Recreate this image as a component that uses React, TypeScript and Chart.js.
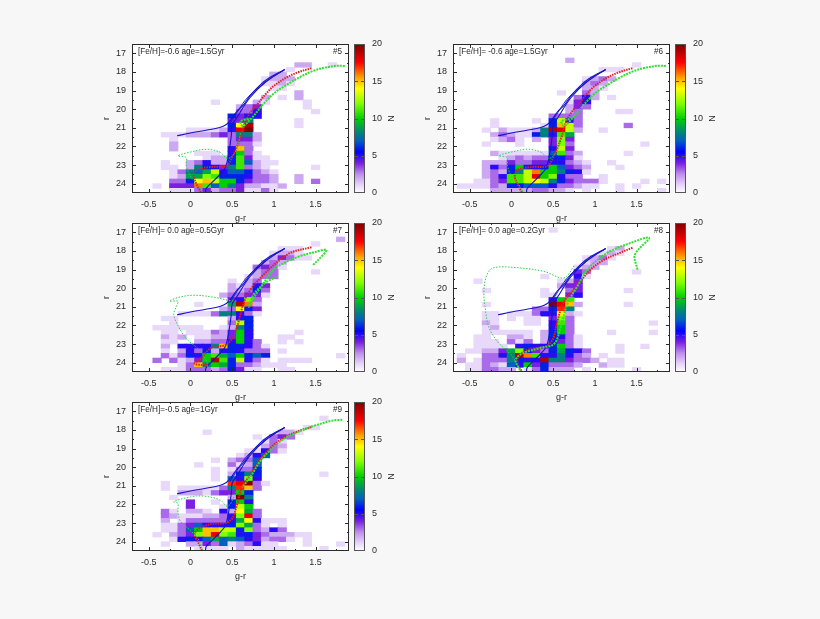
import { useEffect, useRef } from 'react'
import { Chart, registerables } from 'chart.js'

Chart.register(...registerables)

type Seg = number[] // row top edge in r, first g-r bin, then counts N
type Pt = [number, number]

const X_MIN = -0.7
const X_MAX = 1.9
const Y_MIN = 16.5
const Y_MAX = 24.5
const X_BIN = 0.1
const Y_BIN = 0.25
const PLOT_W = 217
const PLOT_H = 149

const xTicks = [-0.5, 0, 0.5, 1, 1.5]
const xMinor = [-0.25, 0.25, 0.75, 1.25, 1.75]
const yTicks = [17, 18, 19, 20, 21, 22, 23, 24]
const yMinor = [16.5, 17.5, 18.5, 19.5, 20.5, 21.5, 22.5, 23.5]
const nTicks = [0, 5, 10, 15, 20]

// colour key of the N bar
const paletteN = [0, 1, 2.5, 4, 5.5, 7, 8, 10, 12, 14, 15.5, 17.5, 20]
const paletteRGB: number[][] = [
  [255, 255, 255], [232, 216, 250], [192, 144, 238], [122, 32, 224], [0, 0, 255], [0, 96, 192],
  [0, 128, 128], [0, 208, 0], [128, 255, 0], [255, 255, 0], [255, 160, 0], [255, 0, 0], [128, 0, 0],
]

const heat5: Seg[] = [
  [17.5, 1.3, 2, 2], [17.5, 1.7, 1], [17.75, 1.2, 1], [18, 1.0, 2, 2], [18.25, 0.9, 1, 2, 2, 2],
  [18.5, 0.9, 1, 1, 2, 1], [18.75, 1.0, 1, 1], [19, 1.3, 2], [19.25, 0.9, 2, 0, 1, 0, 2],
  [19.5, 0.3, 1], [19.5, 0.8, 2, 1], [19.5, 1.4, 1], [19.75, 0.6, 2, 3, 4], [19.75, 1.4, 1],
  [20, 0.6, 3, 3, 5], [20, 1.5, 1], [20.25, 0.5, 6, 4, 5, 5], [20.5, 0.5, 4, 4, 8], [20.5, 1.3, 1],
  [20.75, 0.5, 6, 14, 19], [20.75, 1.3, 1], [21, 0, 1, 1, 1, 1, 2, 5, 18, 20],
  [21.25, -0.3, 1, 1, 1, 2, 2, 2, 3, 4, 3, 8, 8, 2], [21.5, -0.2, 1], [21.5, 0.5, 3, 4, 4, 2],
  [21.75, -0.2, 2], [21.75, 0.5, 3, 3, 3, 1], [22, -0.2, 2], [22, 0.5, 5, 15, 3],
  [22.25, 0.1, 1, 1, 1, 0, 5, 10, 3, 1], [22.5, 0.2, 1, 2, 2, 6, 11, 4, 1, 1],
  [22.75, -0.3, 1, 0, 0, 2, 3, 5, 2, 2, 6, 11, 7, 2, 1, 1],
  [23, -0.3, 1, 1, 0, 2, 8, 6, 5, 4, 8, 11, 3, 2, 1], [23, 1.5, 1],
  [23.25, -0.2, 1, 3, 8, 7, 9, 13, 5, 7, 7, 6, 3, 2, 1],
  [23.5, -0.2, 1, 2, 9, 9, 12, 11, 6, 6, 6, 5, 3, 3, 2, 0, 0, 2],
  [23.75, -0.2, 3, 3, 6, 14, 15, 13, 10, 10, 6, 4, 3, 3, 2, 0, 0, 2, 0, 3],
  [24, -0.4, 1, 0, 4, 4, 4, 16, 11, 7, 10, 8, 4, 2, 2, 1, 1, 2],
  [24.25, -0.2, 1, 1, 1, 3, 4, 2, 3, 3, 4, 1, 1, 3, 1],
]

const heat6: Seg[] = [
  [17.25, 0.7, 2], [17.5, 1.5, 1], [17.75, 1.1, 1, 1, 1], [18.25, 0.9, 1, 2, 3, 2], [18.5, 0.9, 2, 3, 2],
  [18.75, 0.9, 2, 2, 1], [19, 0.6, 1], [19, 0.9, 3, 2], [19.25, 0.8, 3, 5, 2, 0, 1], [19.5, 0.7, 1, 4, 5],
  [19.75, 0.7, 2, 4, 3], [20, 0.7, 2, 3], [20, 1.3, 1, 1], [20.25, 0.5, 3, 3, 3, 3], [20.5, -0.2, 1],
  [20.5, 0.3, 1, 0, 6, 13, 5, 3], [20.75, -0.2, 1], [20.75, 0.4, 1, 6, 15, 13, 3], [20.75, 1.4, 3],
  [21, -0.3, 1, 0, 2, 1, 1, 1, 2, 8, 19, 18, 13, 2], [21, 1.1, 1],
  [21.25, -0.2, 2, 3, 2, 1, 1, 6, 8, 5, 11, 9], [21.5, -0.2, 1, 2, 3, 1, 0, 2, 0, 4, 12, 4],
  [21.75, -0.3, 1], [21.75, 0.1, 1], [21.75, 0.5, 4, 12, 3], [21.75, 1.6, 1], [22, 0.5, 5, 13, 4],
  [22.25, -0.2, 2, 1, 1, 1, 1, 1, 1, 7, 11, 3, 2], [22.25, 1.4, 1], [22.5, -0.1, 1, 2, 3, 2, 3, 3, 6, 6, 4, 1],
  [22.75, -0.3, 2, 2, 2, 4, 3, 3, 4, 4, 5, 5, 3, 2, 1], [22.75, 1.2, 1],
  [23, -0.3, 2, 5, 3, 6, 10, 6, 5, 6, 10, 7, 4, 3, 2], [23, 1.3, 1],
  [23.25, -0.3, 2, 3, 2, 6, 8, 13, 16, 10, 10, 8, 6, 5, 1],
  [23.5, -0.3, 2, 3, 5, 11, 11, 13, 18, 10, 12, 5, 3, 3, 0, 0, 1],
  [23.75, -0.4, 1, 1, 3, 4, 11, 11, 13, 14, 13, 8, 6, 4, 3, 3, 3, 1], [23.75, 1.6, 1], [23.75, 1.8, 1],
  [24, -0.6, 1, 1, 1, 1, 3, 2, 6, 6, 7, 7, 7, 5, 3, 3, 2, 1, 1], [24, 1.3, 1], [24, 1.5, 1],
  [24.25, -0.2, 2, 2, 2, 2, 2, 3, 3, 2, 2, 1, 0, 1], [24.25, 1.3, 1], [24.25, 1.8, 1],
]

const heat7: Seg[] = [
  [17.25, 1.8, 2], [17.5, 1.5, 1], [17.75, 1.1, 1, 1, 1], [18, 1.0, 1, 2, 2, 1], [18.25, 1.0, 2, 4, 3, 1, 1],
  [18.5, 0.9, 2, 3, 2], [18.75, 0.8, 3, 4, 3, 1], [19, 0.8, 2, 3, 3], [19, 1.5, 1], [19.25, 0.7, 1, 2, 3, 3],
  [19.5, 0.5, 1, 0, 2, 3], [19.75, 0.5, 2, 1, 2, 5, 4], [20, 0.5, 2, 2, 3, 6, 3], [20.25, 0.4, 2, 3, 3, 4, 4, 1],
  [20.5, 0.5, 4, 5, 12, 3], [20.75, 0.1, 1], [20.75, 0.5, 9, 19, 16, 2], [21, 0.4, 2, 3, 14, 6, 4],
  [21.25, -0.1, 1, 1, 1, 1, 3, 8, 8, 5, 3, 1], [21.5, -0.3, 1, 1], [21.5, 0.5, 2, 5, 6], [21.75, -0.2, 1],
  [21.75, 0.5, 3, 13, 6], [22, -0.4, 1, 1, 1, 1, 1, 1], [22, 0.4, 1, 2, 8, 6],
  [22.25, -0.3, 1, 1, 0, 1, 1, 1, 3, 2, 4, 10, 5], [22.25, 1.3, 1],
  [22.5, -0.3, 2, 1, 2, 0, 1, 1, 2, 2, 4, 10, 5], [22.5, 1.1, 1, 1],
  [22.75, -0.3, 1, 1, 0, 0, 2, 2, 3, 3, 5, 10, 5, 3], [22.75, 1.1, 1, 0, 1],
  [23, -0.3, 2, 0, 5, 5, 5, 5, 8, 15, 6, 6, 5, 3, 1], [23.25, -0.3, 1, 0, 2, 5, 3, 6, 2, 5, 6, 5, 3, 3, 3, 0, 1],
  [23.5, -0.3, 3, 1, 3, 6, 5, 10, 11, 9, 7, 10, 6, 7, 6], [23.5, 1.8, 1],
  [23.75, -0.4, 3, 0, 3, 1, 2, 4, 10, 19, 11, 6, 13, 5, 3, 1], [23.75, 1.1, 1, 1, 1, 1],
  [24, -0.1, 1, 3, 15, 8, 10, 9, 6, 3, 3, 2, 1, 1, 1], [24.25, -0.3, 1, 1, 1, 3, 3, 3, 2, 3, 6, 4, 1, 1],
  [24.25, 1.1, 1, 1],
]

const heat8: Seg[] = [
  [16.75, 0.5, 1], [17.75, 1.2, 1, 2], [18, 1.1, 1, 2, 1], [18.25, 0.9, 1, 2, 3, 1], [18.5, 0.9, 1, 2, 2],
  [18.75, 0.8, 1, 2, 2], [19, 0.8, 4, 3], [19, 1.5, 1], [19.25, 0.4, 1], [19.25, 0.8, 5, 1], [19.5, -0.4, 1],
  [19.5, 0.6, 1, 2, 4], [19.75, 0.6, 2, 4, 4], [20, -0.3, 1], [20, 0.4, 1], [20, 0.7, 3, 4], [20, 1.4, 1],
  [20.25, 0.4, 1, 1, 0, 4, 5], [20.5, 0.5, 5, 10, 11], [20.75, -0.3, 1], [20.75, 0.5, 20, 18, 15, 2],
  [20.75, 1.4, 1], [21, 0.3, 3, 3, 6, 17, 8], [21.25, -0.3, 1, 1, 0, 1, 1, 1, 3, 5, 5, 14, 2, 1],
  [21.5, -0.3, 1, 1, 0, 1, 0, 1, 1, 0, 4, 12, 3], [21.75, -0.3, 2, 1, 0, 0, 0, 1, 1, 0, 5, 11, 3], [21.75, 1.7, 1],
  [22, -0.3, 1, 2], [22, 0.5, 5, 10, 3], [22.25, -0.3, 1, 1, 1, 1, 1, 1, 0, 2, 6, 10, 3], [22.25, 1.2, 1],
  [22.25, 1.7, 1], [22.5, -0.4, 1, 1, 0, 0, 2, 2, 1, 0, 2, 6, 5, 3, 1], [22.75, -0.4, 1, 1, 1, 0, 3, 1, 3, 0, 2, 6, 4, 3, 1],
  [23, -0.4, 1, 1, 1, 1, 0, 5, 6, 5, 5, 6, 10, 3, 1], [23, 1.3, 1], [23, 1.6, 1],
  [23.25, -0.5, 1, 1, 2, 2, 4, 9, 12, 6, 4, 3, 6, 9, 6, 5, 3], [23.25, 1.3, 1],
  [23.5, -0.6, 1, 0, 0, 3, 3, 5, 8, 19, 16, 11, 5, 5, 8, 5, 3, 2, 0, 1],
  [23.75, -0.6, 2, 0, 1, 3, 3, 3, 8, 6, 5, 5, 19, 8, 8, 4, 3, 3, 2, 0, 1, 1],
  [24, -0.5, 1, 1, 3, 2, 1, 7, 5, 10, 4, 6, 3, 3, 3, 2, 0, 0, 2, 1, 1],
  [24.25, -0.5, 1, 1, 3, 3, 2, 2, 0, 1, 3, 6, 2, 2, 2, 0, 1], [24.25, 1.5, 1],
]

const heat9: Seg[] = [
  [17.25, 1.6, 1], [17.75, 1.4, 1, 1], [18, 0.2, 1], [18, 1.1, 2, 2, 1], [18.25, 0.8, 1, 0, 3, 4, 3],
  [18.5, 0.9, 1, 3, 1], [18.75, 0.9, 2, 3, 2], [19, 0.7, 1, 1, 5, 3, 1], [19.25, 0.6, 1, 2, 5, 7],
  [19.5, 0.3, 1], [19.5, 0.5, 2, 3, 3, 7], [19.75, 0.1, 1], [19.75, 0.5, 3, 1, 2, 7], [20, 0.3, 1],
  [20, 0.5, 1, 3, 3, 6], [20.25, 0.3, 1], [20.25, 0.5, 2, 6, 8, 6], [20.25, 1.6, 1], [20.5, 0.3, 1],
  [20.5, 0.5, 7, 5, 12, 5], [20.75, -0.3, 1], [20.75, 0.5, 17, 18, 20, 3, 1],
  [21, -0.3, 1, 0, 1, 1, 1, 1, 1, 3, 8, 17, 15, 3], [21.25, -0.1, 2, 2, 2, 1, 3, 4, 4, 10, 6],
  [21.5, -0.2, 1], [21.5, 0.5, 2, 20, 8], [21.75, 0, 4], [21.75, 0.3, 1, 0, 6, 10, 5], [22, 0, 4],
  [22, 0.4, 1, 6, 13, 10], [22.25, -0.3, 3, 1, 0, 2, 2, 1, 0, 5, 2, 14, 9, 3],
  [22.5, -0.3, 3, 2, 1, 1, 1, 2, 2, 3, 5, 12, 18, 3], [22.75, -0.3, 2, 0, 1, 3, 3, 3, 3, 3, 5, 9, 14, 5, 1, 1, 1],
  [23, -0.3, 1, 1, 3, 4, 7, 5, 5, 5, 6, 12, 9, 3, 1, 0, 1],
  [23.25, -0.3, 1, 1, 3, 7, 10, 15, 15, 13, 13, 6, 12, 3, 2, 5, 3],
  [23.5, -0.4, 1, 0, 2, 3, 4, 12, 15, 18, 12, 11, 5, 6, 4, 3, 2, 2, 2, 1, 1],
  [23.75, -0.2, 1, 5, 6, 5, 7, 9, 7, 8, 7, 5, 4, 2, 3, 3, 1, 0, 1],
  [24, -0.3, 1, 0, 0, 2, 2, 4, 3, 7, 1, 2, 3, 5, 1, 1], [24, 1.4, 1], [24, 1.8, 1],
  [24.25, 0.1, 1, 1, 1, 1, 0, 2, 1, 1, 1, 1, 1], [24.25, 1.6, 1],
]

// the same blue isochrone sits in every panel
const blueGiant: Pt[] = [[-0.16, 21.43], [0, 21.28], [0.2, 21.12], [0.35, 20.98], [0.43, 20.82], [0.48, 20.6], [0.55, 20.15], [0.63, 19.8], [0.72, 19.25], [0.83, 18.72], [0.95, 18.3], [1.13, 17.87]]
const blueBack: Pt[] = [[1.13, 17.87], [0.91, 18.5], [0.71, 19.4], [0.55, 20.5], [0.5, 20.85], [0.49, 21.4], [0.45, 22.6], [0.41, 23.2], [0.29, 23.8], [0.19, 24.25], [0.18, 24.5]]
const blueMid: Pt[] = [[1.13, 17.87], [0.98, 18.3], [0.8, 18.9], [0.66, 19.5], [0.54, 20.3], [0.47, 20.8]]

const red5: Pt[] = [[1.45, 17.8], [1.3, 18], [1.15, 18.3], [1, 18.75], [0.9, 19.2], [0.8, 19.75], [0.7, 20.3], [0.63, 21], [0.6, 21.5], [0.55, 22.1], [0.5, 22.6], [0.43, 23.05], [0.25, 23.1], [0.08, 23.25], [0.04, 23.6], [0.07, 24], [0.13, 24.5]]
const greenGiant5: Pt[] = [[1.85, 17.68], [1.75, 17.67], [1.6, 17.78], [1.45, 17.98], [1.3, 18.3], [1.15, 18.7], [1, 19.15], [0.85, 19.85], [0.75, 20.4], [0.63, 20.9], [0.6, 20.65], [0.72, 20.5]]
const greenArch5: Pt[] = [[0.6, 21.3], [0.55, 22.2], [0.45, 22.65], [0.35, 22.3], [0.2, 22.15], [0.05, 22.25], [-0.15, 22.5], [-0.05, 22.6], [-0.05, 23], [0, 23.6], [0.08, 24], [0.15, 24.5]]

const red7: Pt[] = [[1.45, 17.8], [1.2, 18.1], [1, 18.75], [0.85, 19.4], [0.7, 20.2], [0.63, 20.9], [0.6, 21.4], [0.55, 22.2], [0.5, 22.7], [0.42, 23.05], [0.25, 23.2], [0.12, 23.8], [0.05, 24.05], [0.2, 24.15]]
const greenGiant7: Pt[] = [[1.47, 18.75], [1.55, 18.4], [1.63, 17.95], [1.5, 18.05], [1.3, 18.3], [1.1, 18.7], [1, 19], [0.85, 19.9], [0.75, 20.6], [0.7, 21], [0.75, 20.4], [0.8, 20.1], [0.9, 19.7], [1.05, 19.35]]
const greenArch7: Pt[] = [[0.55, 20.7], [0.45, 20.65], [0.3, 20.5], [0.05, 20.38], [-0.15, 20.5], [-0.25, 20.7], [-0.15, 20.7], [-0.17, 21], [-0.2, 21.4], [-0.15, 22], [-0.05, 22.7], [0.1, 23.3], [0.2, 24], [0.2, 24.5]]

const red8: Pt[] = [[1.45, 17.83], [1.3, 18.1], [1.1, 18.5], [0.95, 19], [0.75, 20.05], [0.62, 20.8], [0.55, 21.8], [0.5, 22.7], [0.42, 23.1], [0.2, 23.3], [0.08, 23.7], [0.08, 24.1], [0.13, 24.5]]
const greenGiant8: Pt[] = [[1.51, 19], [1.48, 18.2], [1.65, 17.3], [1.43, 17.57], [1.15, 18.1], [0.91, 19], [0.79, 19.9], [0.67, 20.85], [0.59, 22.1], [0.51, 23], [0.35, 23.2], [0.11, 23.55], [0.05, 23.9], [0.11, 24.45]]
const greenArch8: Pt[] = [[0.75, 18.8], [0.63, 19.45], [0.39, 19.1], [0.07, 18.9], [-0.21, 18.9], [-0.29, 19.25], [-0.33, 20.15], [-0.31, 21.2], [-0.27, 22.1], [-0.17, 22.85], [-0.01, 23.55], [0.07, 24.1], [0.11, 24.45]]

const red9: Pt[] = [[1.45, 17.85], [1.3, 18.05], [1.15, 18.35], [1, 18.8], [0.85, 19.5], [0.72, 20.4], [0.62, 21.05], [0.55, 22.15], [0.5, 22.75], [0.42, 23], [0.25, 23.05], [0.1, 23.3], [0.05, 23.6], [0.1, 24.1], [0.14, 24.5]]
const greenGiant9: Pt[] = [[1.82, 17.45], [1.7, 17.5], [1.5, 17.75], [1.35, 18], [1.15, 18.4], [1, 18.9], [0.85, 19.6], [0.72, 20.5], [0.62, 21.1]]
const greenArch9: Pt[] = [[0.55, 21.3], [0.45, 22.1], [0.35, 21.75], [0.15, 21.55], [0, 21.6], [-0.2, 21.85], [-0.15, 21.95], [-0.15, 22.4], [-0.12, 22.9], [0, 23.4], [0.1, 23.9], [0.15, 24.5]]

const panels = [
  { left: 132, top: 44, title: '[Fe/H]=-0.6 age=1.5Gyr', tag: '#5', heat: heat5, red: red5, giant: greenGiant5, arch: greenArch5 },
  { left: 453, top: 44, title: '[Fe/H]= -0.6 age=1.5Gyr', tag: '#6', heat: heat6, red: red5, giant: greenGiant5, arch: greenArch5 },
  { left: 132, top: 223, title: '[Fe/H]= 0.0 age=0.5Gyr', tag: '#7', heat: heat7, red: red7, giant: greenGiant7, arch: greenArch7 },
  { left: 453, top: 223, title: '[Fe/H]= 0.0 age=0.2Gyr', tag: '#8', heat: heat8, red: red8, giant: greenGiant8, arch: greenArch8 },
  { left: 132, top: 402, title: '[Fe/H]=-0.5 age=1Gyr', tag: '#9', heat: heat9, red: red9, giant: greenGiant9, arch: greenArch9 },
]

function colorFor(n: number) {
  let i = 0
  while (i < paletteN.length - 2 && n > paletteN[i + 1]) i++
  const t = (n - paletteN[i]) / (paletteN[i + 1] - paletteN[i])
  const c = paletteRGB[i].map((v, k) => Math.round(v + (paletteRGB[i + 1][k] - v) * t))
  return `rgb(${c[0]},${c[1]},${c[2]})`
}

function cellsOf(heat: Seg[]) {
  const cells: { x: number; y: number[]; n: number }[] = []
  heat.forEach(([r, g0, ...counts]) => {
    counts.forEach((n, i) => {
      if (n > 0) cells.push({ x: Math.round((g0 + i * X_BIN) * 10) / 10, y: [r, r + Y_BIN], n })
    })
  })
  return cells
}

const toXY = (pts: Pt[]) => pts.map(([x, y]) => ({ x, y }))

const FONT = { family: '"Liberation Sans", Arial, sans-serif', size: 9 }
const INK = '#2a2a2a'
const KEY_PAD = 8

// white plot area, gnuplot style frame with inward ticks on all sides, panel captions
const framePlugin = {
  id: 'frame',
  beforeDraw(chart: any, _a: any, opts: any) {
    const { ctx, chartArea: a } = chart
    if (opts.fill) {
      ctx.fillStyle = opts.fill
      ctx.fillRect(a.left, a.top, a.right - a.left, a.bottom - a.top)
    }
  },
  afterDraw(chart: any, _a: any, opts: any) {
    const { ctx, chartArea: a, scales } = chart
    ctx.save()
    ctx.strokeStyle = opts.color
    ctx.lineWidth = 1
    ctx.strokeRect(a.left + 0.5, a.top + 0.5, a.right - a.left - 1, a.bottom - a.top - 1)
    const tick = (x1: number, y1: number, x2: number, y2: number) => {
      ctx.beginPath()
      ctx.moveTo(x1, y1)
      ctx.lineTo(x2, y2)
      ctx.stroke()
    }
    ;(opts.xMajor || []).forEach((v: number) => {
      const x = Math.round(scales.x.getPixelForValue(v)) + 0.5
      tick(x, a.bottom, x, a.bottom - 4)
      tick(x, a.top, x, a.top + 4)
    })
    ;(opts.xMinor || []).forEach((v: number) => {
      const x = Math.round(scales.x.getPixelForValue(v)) + 0.5
      tick(x, a.bottom, x, a.bottom - 2)
      tick(x, a.top, x, a.top + 2)
    })
    ;(opts.yMajor || []).forEach((v: number) => {
      const y = Math.round(scales.y.getPixelForValue(v)) + 0.5
      tick(a.left, y, a.left + 4, y)
      tick(a.right, y, a.right - 4, y)
    })
    ;(opts.yMinor || []).forEach((v: number) => {
      const y = Math.round(scales.y.getPixelForValue(v)) + 0.5
      tick(a.left, y, a.left + 2, y)
      tick(a.right, y, a.right - 2, y)
    })
    if (opts.title) {
      ctx.fillStyle = INK
      ctx.font = `8.2px ${FONT.family}`
      ctx.textBaseline = 'middle'
      ctx.textAlign = 'left'
      ctx.fillText(opts.title, a.left + 6, a.top + 8)
      ctx.textAlign = 'right'
      ctx.fillText(opts.tag, a.right - 7, a.top + 8)
    }
    ctx.restore()
  },
}

const fitHeight = (h: number) => (s: any) => {
  s.height = h
  s.paddingLeft = 0
  s.paddingRight = 0
}
const fitWidth = (w: number) => (s: any) => {
  s.width = w
  s.paddingTop = 0
  s.paddingBottom = 0
}

function Panel({ p }: { p: (typeof panels)[number] }) {
  const plotRef = useRef<HTMLCanvasElement | null>(null)
  const keyRef = useRef<HTMLCanvasElement | null>(null)

  useEffect(() => {
    if (!plotRef.current || !keyRef.current) return
    const cells = cellsOf(p.heat)
    const line = (pts: Pt[], color: string, width: number, dash: number[]) => ({
      type: 'scatter' as const,
      data: toXY(pts),
      showLine: true,
      borderColor: color,
      borderWidth: width,
      borderDash: dash,
      pointRadius: 0,
      tension: 0.35,
      order: 1,
    })
    const plot = new Chart(plotRef.current, {
      type: 'bar',
      data: {
        datasets: [
          {
            data: cells as any,
            backgroundColor: cells.map((c) => colorFor(c.n)),
            barThickness: (PLOT_W / (X_MAX - X_MIN)) * X_BIN + 0.2,
            order: 5,
          },
          line(p.giant, '#30e030', 2, [2, 1]),
          line(p.arch, '#30d050', 1, [1.5, 1.5]),
          line(p.red, '#e02020', 2, [1.5, 1]),
          line(blueGiant, '#1414c8', 1.1, []),
          line(blueMid, '#1414c8', 0.9, []),
          line(blueBack, '#1414c8', 1.1, []),
        ] as any,
      },
      options: {
        responsive: false,
        animation: false,
        layout: { padding: { top: 2, right: 1 } },
        plugins: {
          legend: { display: false },
          tooltip: { enabled: false },
          frame: { fill: '#ffffff', color: INK, title: p.title, tag: p.tag, xMajor: xTicks, xMinor, yMajor: yTicks, yMinor },
        } as any,
        scales: {
          x: {
            type: 'linear',
            offset: false,
            min: X_MIN,
            max: X_MAX,
            grid: { display: false, drawTicks: false },
            border: { display: false },
            ticks: { color: INK, font: FONT, padding: 6, maxRotation: 0, callback: (v: any) => String(v) },
            afterBuildTicks: (s: any) => { s.ticks = xTicks.map((value) => ({ value })) },
            afterFit: fitHeight(31),
            title: { display: true, text: 'g-r', color: INK, font: FONT, padding: 0 },
          },
          y: {
            type: 'linear',
            reverse: true,
            beginAtZero: false,
            min: Y_MIN,
            max: Y_MAX,
            grid: { display: false, drawTicks: false },
            border: { display: false },
            ticks: { color: INK, font: FONT, padding: 6, callback: (v: any) => String(v) },
            afterBuildTicks: (s: any) => { s.ticks = yTicks.map((value) => ({ value })) },
            afterFit: fitWidth(42),
            title: { display: true, text: 'r', color: INK, font: FONT, padding: { top: 11, bottom: 0 } },
          },
        },
      } as any,
      plugins: [framePlugin],
    })

    const key = new Chart(keyRef.current, {
      type: 'bar',
      data: {
        labels: ['N'],
        datasets: [
          {
            data: [[nTicks[0], nTicks[nTicks.length - 1]]],
            barPercentage: 1,
            categoryPercentage: 1,
            backgroundColor: (c: any) => {
              const y = c.chart.scales.y
              const y0 = y ? y.getPixelForValue(0) : NaN
              const y1 = y ? y.getPixelForValue(20) : NaN
              if (!Number.isFinite(y0) || !Number.isFinite(y1)) return '#888888'
              const g = c.chart.ctx.createLinearGradient(0, y0, 0, y1)
              paletteN.forEach((n) => g.addColorStop(n / 20, colorFor(n)))
              return g
            },
          },
        ] as any,
      },
      options: {
        responsive: false,
        animation: false,
        layout: { padding: { top: KEY_PAD, left: 4, bottom: KEY_PAD } },
        plugins: {
          legend: { display: false },
          tooltip: { enabled: false },
          frame: { color: '#555555', yMajor: nTicks.slice(1, -1) },
        } as any,
        scales: {
          x: { display: false },
          y: {
            position: 'right',
            min: 0,
            max: 20,
            grid: { display: false, drawTicks: false },
            border: { display: false },
            ticks: { color: INK, font: FONT, padding: 7, callback: (v: any) => String(v) },
            afterBuildTicks: (s: any) => { s.ticks = nTicks.map((value) => ({ value })) },
            afterFit: fitWidth(31),
            title: { display: true, text: 'N', color: INK, font: FONT, padding: 0 },
          },
        },
      } as any,
      plugins: [framePlugin],
    })

    return () => {
      plot.destroy()
      key.destroy()
    }
  }, [p])

  const soft = 'blur(0.45px)'
  return (
    <>
      <canvas
        ref={plotRef}
        width={42 + PLOT_W + 1}
        height={2 + PLOT_H + 31}
        style={{ position: 'absolute', left: p.left - 42, top: p.top - 2, filter: soft }}
      />
      <canvas
        ref={keyRef}
        width={46}
        height={PLOT_H + 2 * KEY_PAD}
        style={{ position: 'absolute', left: p.left + PLOT_W + 1, top: p.top - KEY_PAD, filter: soft }}
      />
    </>
  )
}

export default function App() {
  return (
    <div style={{ position: 'fixed', inset: 0, background: '#f7f7f7' }}>
      {panels.map((p) => (
        <Panel key={p.tag} p={p} />
      ))}
    </div>
  )
}
